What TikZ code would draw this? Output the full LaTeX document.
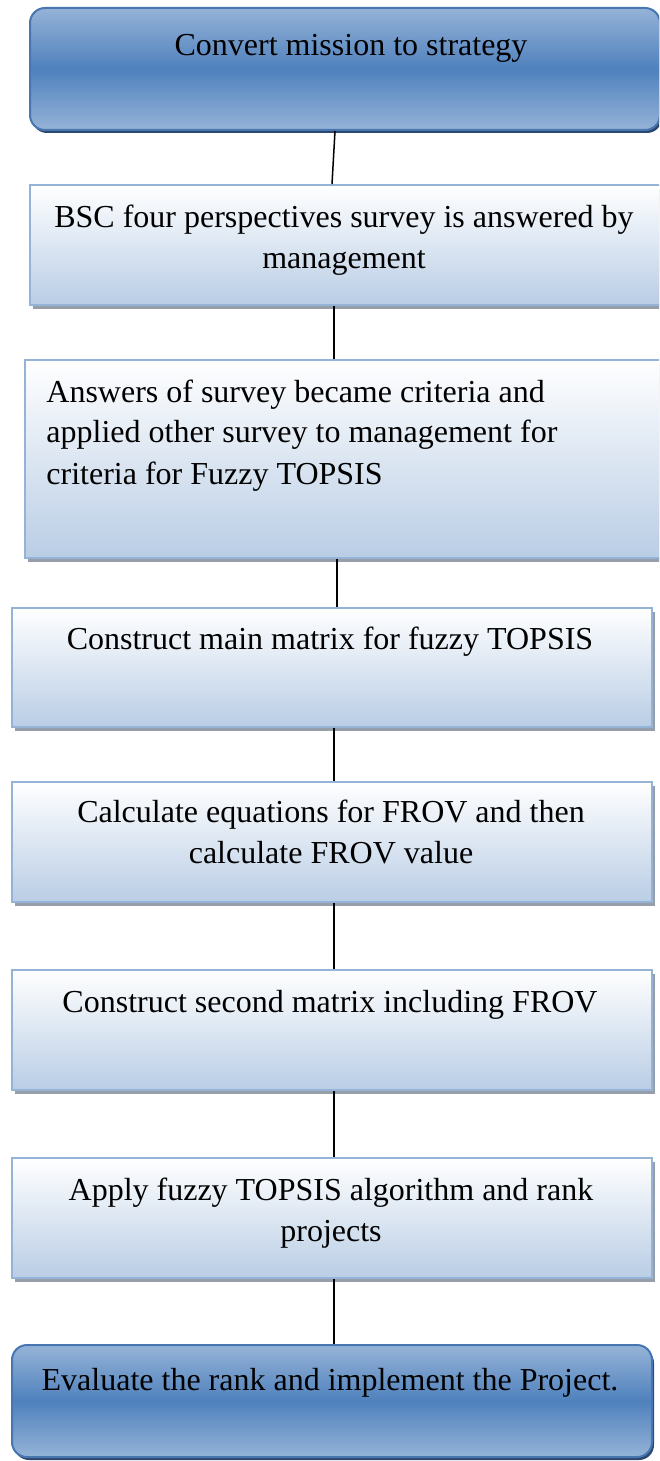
\documentclass[tikz,border=0pt]{standalone}
\usepackage{fontspec}
\setmainfont{Liberation Serif}
\usetikzlibrary{fit,shadows}

\definecolor{paleedge}{RGB}{149,179,215}
\definecolor{palefill}{RGB}{185,205,229}
\definecolor{deepblue}{RGB}{79,129,189}
\definecolor{lightblue}{RGB}{149,179,215}
\definecolor{deepedge}{RGB}{72,118,176}
\definecolor{deepshadow}{RGB}{44,72,110}
\definecolor{hatchgray}{RGB}{150,158,170}

\begin{document}
\begin{tikzpicture}[x=0.5pt,y=-0.5pt,
  stepbox/.style={inner sep=0pt, draw=paleedge, line width=1pt,
    top color=white, bottom color=palefill,
    drop shadow={shadow xshift=1.5pt, shadow yshift=-2pt, fill=hatchgray, opacity=1}},
  endbox/.style={inner sep=0pt, rounded corners=7.5pt, draw=deepedge, line width=1pt,
    top color=lightblue, bottom color=lightblue, middle color=deepblue,
    drop shadow={shadow xshift=1pt, shadow yshift=-1.5pt, fill=deepshadow, opacity=1}},
  label/.style={inner sep=0pt, anchor=base, font=\fontsize{16}{20}\selectfont},
  link/.style={draw=black, line width=0.75pt}]

\useasboundingbox (0,0) rectangle (659,1461);
\clip (0,0) rectangle (659,1461);

% boxes
\node[endbox,  fit={(30,8)(660,130)}]    (b1) {};
\node[stepbox, fit={(30,185)(668,305)}]  (b2) {};
\node[stepbox, fit={(25,360)(668,558)}]  (b3) {};
\node[stepbox, fit={(12,608)(652,727)}]  (b4) {};
\node[stepbox, fit={(12,782)(652,902)}]  (b5) {};
\node[stepbox, fit={(12,970)(652,1090)}] (b6) {};
\node[stepbox, fit={(12,1158)(652,1278)}] (b7) {};
\node[endbox,  fit={(12,1345)(652,1457)}] (b8) {};

% texts
\node[label] (t1)  at (351,56)   {Convert mission to strategy};
\node[label] (t2a) at (344,227)  {BSC four perspectives survey is answered by};
\node[label] (t2b) at (344,268)  {management};
\node[label, anchor=base west] (t3a) at (46,402) {Answers of survey became criteria and};
\node[label, anchor=base west] (t3b) at (46,442) {applied other survey to management for};
\node[label, anchor=base west] (t3c) at (46,484) {criteria for Fuzzy TOPSIS};
\node[label] (t4)  at (330,649)  {Construct main matrix for fuzzy TOPSIS};
\node[label] (t5a) at (331,822)  {Calculate equations for FROV and then};
\node[label] (t5b) at (331,863)  {calculate FROV value};
\node[label] (t6)  at (330,1012) {Construct second matrix including FROV};
\node[label] (t7a) at (331,1200) {Apply fuzzy TOPSIS algorithm and rank};
\node[label] (t7b) at (331,1241) {projects};
\node[label] (t8)  at (330,1390) {Evaluate the rank and implement the Project.};

% connectors
\coordinate (sA) at (335,0);
\coordinate (sB) at (332,0);
\coordinate (sC) at (334,0);
\coordinate (sD) at (337,0);
\draw[link] (b1.south -| sA) -- (b2.north -| sB);
\draw[link] (b2.south -| sC) -- (b3.north -| sC);
\draw[link] (b3.south -| sD) -- (b4.north -| sD);
\draw[link] (b4.south -| sC) -- (b5.north -| sC);
\draw[link] (b5.south -| sC) -- (b6.north -| sC);
\draw[link] (b6.south -| sC) -- (b7.north -| sC);
\draw[link] (b7.south -| sC) -- (b8.north -| sC);
\end{tikzpicture}
\end{document}
